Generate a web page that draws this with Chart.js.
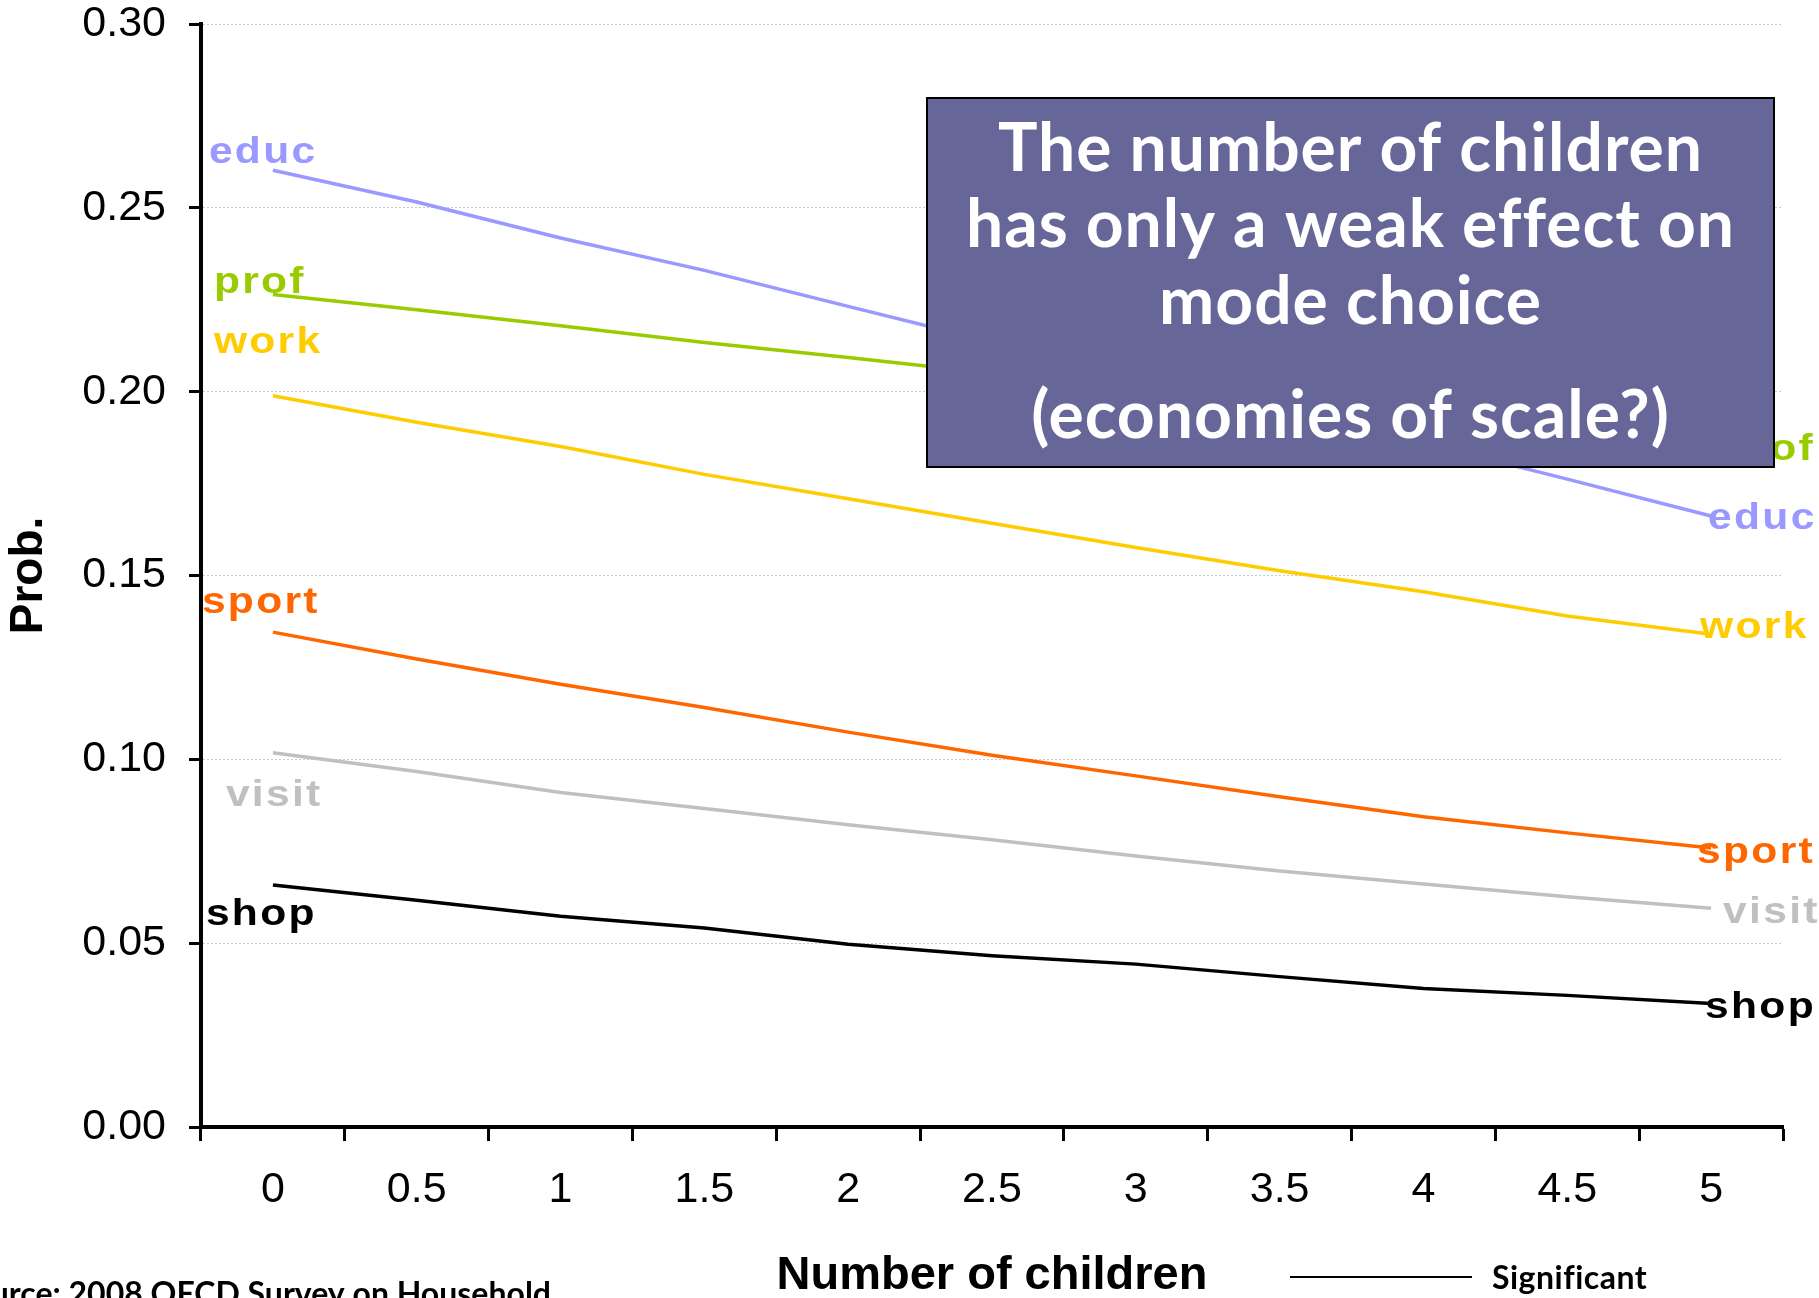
<!DOCTYPE html>
<html><head><meta charset="utf-8">
<script src="https://cdn.jsdelivr.net/npm/chart.js@4.4.1/dist/chart.umd.min.js"></script>
<style>html,body{margin:0;padding:0;background:#fff;overflow:hidden}#wrap{width:1819px;height:1298px;position:relative}canvas{display:block}</style>
</head><body><div id="wrap"><canvas id="c" width="1819" height="1298"></canvas></div>
<script>
// ---- data ----
const categories = ['0','0.5','1','1.5','2','2.5','3','3.5','4','4.5','5'];
const educ  = [0.2602,0.2516,0.2418,0.2330,0.2232,0.2135,0.2045,0.1952,0.1860,0.1762,0.1662];
const prof  = [0.2264,0.2223,0.2179,0.2134,0.2093,0.2050,0.2010,0.1965,0.1920,0.1877,0.1835];
const work  = [0.1989,0.1917,0.1851,0.1775,0.1709,0.1642,0.1576,0.1513,0.1456,0.1390,0.1340];
const sport = [0.1346,0.1273,0.1204,0.1141,0.1074,0.1011,0.0955,0.0898,0.0844,0.0800,0.0759];
const visit = [0.1018,0.0967,0.0910,0.0866,0.0822,0.0781,0.0737,0.0696,0.0661,0.0626,0.0595];
const shop  = [0.0658,0.0617,0.0573,0.0541,0.0497,0.0466,0.0443,0.0409,0.0377,0.0358,0.0336];
const seriesNames = ['educ','prof','work','sport','visit','shop'];
const seriesData  = [educ, prof, work, sport, visit, shop];
const yTicks = [0, 0.05, 0.10, 0.15, 0.20, 0.25, 0.30];
const noteLines = ['The number of children', 'has only a weak effect on', 'mode choice', '(economies of scale?)'];
const sourceText = 'Source: 2008 OECD Survey on Household';
const legendText = 'Significant';

// ---- styles ----
const colors = {educ:'#9999FF', prof:'#99CC00', work:'#FFCC00', sport:'#FF6600', visit:'#C0C0C0', shop:'#000000'};
// label offsets (px) relative to first / last point: [dx, dy to baseline]
const labelPlacement = {
  educ:  {left:[-64,-7],  right:[-3,13]},
  prof:  {left:[-59,-2],  right:[12,8]},
  work:  {left:[-59,-43], right:[-11,4]},
  sport: {left:[-71,-19], right:[-14,15]},
  visit: {left:[-47,53],  right:[12,15]},
  shop:  {left:[-67,40],  right:[-6,15]}
};
const ARIAL = '"Liberation Sans", Arial, sans-serif';
const HUM = 'Lato, "Open Sans", sans-serif';

const labelsPlugin = {
  id: 'seriesLabels',
  afterDatasetsDraw(chart) {
    const ctx = chart.ctx;
    chart.data.datasets.forEach((ds, i) => {
      const meta = chart.getDatasetMeta(i);
      const p0 = meta.data[0], p1 = meta.data[meta.data.length - 1];
      const st = labelPlacement[ds.label];
      [[p0, st.left], [p1, st.right]].forEach(([p, off]) => {
        ctx.save();
        ctx.font = 'bold 37px ' + ARIAL;
        try { ctx.letterSpacing = '2px'; } catch(e) {}
        ctx.textBaseline = 'alphabetic';
        ctx.textAlign = 'left';
        ctx.fillStyle = ds.borderColor;
        ctx.translate(p.x + off[0], p.y + off[1]);
        ctx.scale(1.15, 1);
        ctx.fillText(ds.label, 0, 0);
        ctx.restore();
      });
    });
  }
};

const notePlugin = {
  id: 'note',
  afterDraw(chart) {
    const ctx = chart.ctx;
    ctx.save();
    // annotation box
    const bx = 927, by = 98, bw = 847, bh = 369;
    ctx.fillStyle = '#666699';
    ctx.fillRect(bx, by, bw, bh);
    ctx.lineWidth = 2;
    ctx.strokeStyle = '#000';
    ctx.strokeRect(bx, by, bw, bh);
    ctx.fillStyle = '#ffffff';
    ctx.textAlign = 'center';
    ctx.textBaseline = 'alphabetic';
    ctx.font = 'bold 66px ' + HUM;
    try { ctx.letterSpacing = '1px'; } catch(e) {}
    const baselines = [171, 247, 324, 438];
    noteLines.forEach((t, i) => ctx.fillText(t, bx + bw / 2, baselines[i]));
    // source text (cut at left edge)
    try { ctx.letterSpacing = '0px'; } catch(e) {}
    ctx.fillStyle = '#000';
    ctx.textAlign = 'right';
    ctx.font = 'bold 32px ' + HUM;
    ctx.fillText(sourceText, 551, 1305);
    // legend "Significant"
    ctx.beginPath();
    ctx.lineWidth = 2;
    ctx.moveTo(1290, 1277);
    ctx.lineTo(1472, 1277);
    ctx.stroke();
    ctx.textAlign = 'left';
    try { ctx.letterSpacing = '0.5px'; } catch(e) {}
    ctx.font = 'bold 32px ' + HUM;
    ctx.fillText(legendText, 1492, 1289);
    ctx.restore();
  }
};

const ctx = document.getElementById('c').getContext('2d');
new Chart(ctx, {
  type: 'line',
  data: {
    labels: categories,
    datasets: seriesNames.map((n, i) => ({
      label: n, data: seriesData[i], borderColor: colors[n], backgroundColor: colors[n],
      borderWidth: 3.5, pointRadius: 0, pointHoverRadius: 0, fill: false, tension: 0
    }))
  },
  options: {
    responsive: false, animation: false, events: [],
    layout: {padding: {left: 0, right: 36, top: 24, bottom: 0}},
    plugins: {legend: {display: false}, tooltip: {enabled: false}},
    scales: {
      x: {
        type: 'category', offset: true,
        grid: {offset: true, drawOnChartArea: false, drawTicks: true, tickLength: 14, tickWidth: 3, tickColor: '#000'},
        border: {display: true, color: '#000', width: 4},
        ticks: {color: '#000', font: {family: ARIAL, size: 43, lineHeight: 1}, padding: 28, maxRotation: 0, autoSkip: false},
        title: {display: true, text: 'Number of children', color: '#000',
                font: {family: ARIAL, size: 47, weight: 'bold', lineHeight: 1}, padding: {top: 0, bottom: -2}},
        afterFit(s) { s.height = 171; s.paddingLeft = 0; s.paddingRight = 0; }
      },
      y: {
        min: 0, max: 0.3,
        afterBuildTicks(s) { s.ticks = yTicks.map(v => ({value: v})); },
        grid: {color: '#c8c8c8', lineWidth: 1, tickLength: 12, tickWidth: 3, tickColor: '#000', tickBorderDash: []},
        border: {display: true, color: '#000', width: 4, dash: [2, 2]},
        ticks: {color: '#000', font: {family: ARIAL, size: 43, lineHeight: 1}, padding: 23,
                callback: v => Number(v).toFixed(2)},
        title: {display: true, text: 'Prob.', color: '#000',
                font: {family: ARIAL, size: 46, weight: 'bold', lineHeight: 1}, padding: {top: 6, bottom: 0}},
        afterFit(s) { s.width = 201; s.paddingTop = 0; s.paddingBottom = 0; }
      }
    }
  },
  plugins: [labelsPlugin, notePlugin]
});
</script>
</body></html>
